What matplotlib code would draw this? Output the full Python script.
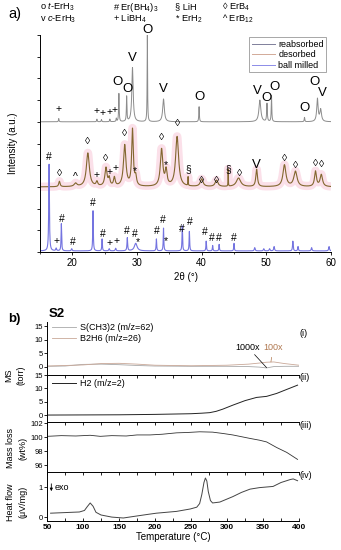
import matplotlib
matplotlib.use("Agg")
import matplotlib.pyplot as plt
import numpy as np

plt.rcParams['font.family'] = ['Liberation Sans', 'DejaVu Sans']
plt.rcParams['mathtext.fontset'] = 'custom'
plt.rcParams['mathtext.rm'] = 'Liberation Sans'
plt.rcParams['mathtext.it'] = 'Liberation Sans:italic'

# ---- panel a: XRD peak tables (2theta, height, width), heights in tick units ----
reab_pos = [17.9, 23.8, 24.5, 25.8, 26.8, 27.2, 28.4, 29.3, 31.6, 34.1, 39.6, 49.0, 50.1, 50.8, 55.9, 57.9, 58.4]
reab_h   = [0.15, 0.12, 0.10, 0.12, 0.15, 1.30, 1.15, 2.50, 4.00, 1.05, 0.70, 1.00, 0.83, 1.20, 0.20, 1.05, 0.55]
reab_w   = [0.10, 0.10, 0.10, 0.10, 0.10, 0.10, 0.10, 0.25, 0.08, 0.30, 0.10, 0.35, 0.12, 0.10, 0.10, 0.25, 0.30]

deso_pos = [18.0, 20.5, 22.4, 23.8, 25.2, 25.7, 26.5, 28.1, 29.3, 29.8, 33.8, 34.5, 36.2, 37.9, 40.0, 42.3, 44.1, 45.7, 48.5, 52.8, 54.5, 57.6, 58.5]
deso_h   = [0.25, 0.15, 1.55, 0.20, 0.85, 0.35, 0.40, 1.90, 2.60, 0.40, 1.70, 0.70, 2.30, 0.40, 0.35, 0.30, 0.80, 0.40, 0.80, 1.00, 0.70, 0.70, 0.55]
deso_w   = [0.25, 0.50, 0.55, 0.30, 0.40, 0.30, 0.30, 0.45, 0.30, 0.30, 0.45, 0.35, 0.55, 0.06, 0.50, 0.50, 0.05, 0.80, 0.30, 0.55, 0.60, 0.35, 0.45]

ball_pos = [16.4, 17.5, 18.3, 19.9, 23.2, 24.6, 25.7, 26.7, 28.5, 29.8, 33.0, 34.1, 37.0, 38.1, 40.7, 41.7, 42.7, 45.0, 48.2, 49.6, 50.5, 51.2, 54.1, 54.9, 57.0, 59.7]
ball_h   = [4.00, 0.12, 1.25, 0.10, 1.85, 0.55, 0.10, 0.12, 0.60, 0.35, 0.55, 1.05, 1.15, 0.90, 0.45, 0.25, 0.30, 0.35, 0.15, 0.10, 0.10, 0.20, 0.45, 0.20, 0.15, 0.20]
ball_w   = [0.12, 0.15, 0.10, 0.15, 0.10, 0.10, 0.15, 0.15, 0.12, 0.50, 0.10, 0.10, 0.10, 0.10, 0.10, 0.10, 0.10, 0.10, 0.15, 0.15, 0.15, 0.15, 0.12, 0.12, 0.15, 0.15]

offsets = {'reabsorbed': 6.0, 'desorbed': 3.0, 'ball milled': 0.05}

# phase markers (2theta, y in tick units, symbol)
reab_marks = [(17.9, 6.6, '+'), (23.8, 6.5, '+'), (24.6, 6.4, '+'), (25.8, 6.45, '+'), (26.6, 6.55, '+'),
              (27.0, 7.85, 'O'), (28.5, 7.5, 'O'), (29.3, 8.95, 'V'), (31.6, 10.25, 'O'), (34.1, 7.5, 'V'),
              (39.6, 7.15, 'O'), (48.6, 7.4, 'V'), (50.0, 7.1, 'O'), (51.2, 7.6, 'O'), (55.9, 6.65, 'O'),
              (57.4, 7.85, 'O'), (58.7, 7.35, 'V')]
deso_marks = [(18.0, 3.65, '\u25ca'), (20.5, 3.45, '^'), (22.4, 5.1, '\u25ca'), (23.8, 3.55, '+'),
              (25.2, 4.35, '\u25ca'), (25.7, 3.7, '+'), (26.7, 3.85, '+'), (28.1, 5.5, '\u25ca'),
              (29.6, 3.75, '*'), (33.8, 5.3, '\u25ca'), (34.4, 4.0, '*'), (36.2, 5.95, '\u25ca'),
              (37.9, 3.8, '\u00a7'), (40.0, 3.3, '\u25ca'), (42.3, 3.3, '\u25ca'), (44.1, 3.8, '\u00a7'),
              (45.9, 3.65, '\u25ca'), (48.5, 4.0, 'V'), (52.8, 4.35, '\u25ca'), (54.5, 4.0, '\u25ca'),
              (57.6, 4.1, '\u25ca'), (58.6, 4.05, '\u25ca')]
ball_marks = [(16.4, 4.4, '#'), (17.5, 0.5, '+'), (18.3, 1.5, '#'), (20.0, 0.45, '#'), (23.2, 2.25, '#'),
              (24.7, 0.85, '#'), (25.8, 0.4, '+'), (26.8, 0.5, '+'), (28.5, 0.95, '#'), (29.6, 0.85, '#'),
              (30.1, 0.45, '*'), (33.0, 0.95, '#'), (34.0, 1.47, '#'), (34.5, 0.5, '*'), (36.9, 1.05, '#'),
              (38.1, 1.38, '#'), (40.5, 0.92, '#'), (41.6, 0.65, '#'), (42.7, 0.65, '#'), (45.0, 0.65, '#')]

# ---- panel b: thermal analysis ----
ms_T      = [50, 75, 100, 125, 150, 175, 200, 250, 300, 330, 345, 355, 365, 380, 400]
sch3_vals = [0.2, 0.3, 0.9, 1.0, 0.8, 0.5, 0.3, 0.2, 0.2, 0.1, -0.1, -0.4, 0.1, 0.2, 0.2]
b2h6_vals = [0.3, 0.5, 0.7, 1.2, 1.3, 1.0, 0.6, 0.4, 0.6, 1.0, 1.4, 1.7, 1.8, 1.2, 0.6]

h2_T    = [50, 100, 150, 200, 250, 265, 276, 285, 294, 308, 325, 341, 355, 369, 383, 398]
h2_vals = [0.0, 0.05, 0.1, 0.25, 0.5, 0.7, 0.9, 1.4, 2.2, 3.7, 5.4, 6.6, 7.0, 8.1, 9.6, 11.2]

tg_T    = [50, 70, 90, 110, 124, 140, 160, 175, 193, 210, 230, 245, 262, 280, 295, 308, 320, 332, 345, 355, 369, 383, 398]
tg_vals = [100.1, 100.2, 100.15, 100.25, 100.1, 100.2, 100.15, 100.3, 100.3, 100.4, 100.6, 100.65, 100.75, 100.7, 100.5, 100.3, 100.05, 99.8, 99.55, 99.3, 98.5, 97.8, 96.8]

dsc_T    = [55, 75, 95, 102, 106, 110, 114, 118, 125, 140, 156, 170, 190, 202, 230, 249, 258, 262, 265, 268, 270, 272, 274, 277, 280, 290, 300, 308, 320, 332, 345, 364, 375, 388, 392, 398]
dsc_vals = [0.13, 0.15, 0.17, 0.22, 0.35, 0.47, 0.36, 0.16, 0.07, 0.0, -0.03, 0.02, 0.09, 0.13, 0.19, 0.27, 0.33, 0.45, 0.75, 1.15, 1.3, 1.2, 0.85, 0.55, 0.47, 0.5, 0.6, 0.68, 0.82, 0.93, 0.98, 1.02, 1.15, 1.25, 1.27, 1.21]


def pattern(x, pos, h, w):
    y = np.zeros_like(x)
    for p, a, g in zip(pos, h, w):
        y += a / (1 + ((x - p) / (g / 2)) ** 2)
    return y


fig = plt.figure(figsize=(3.41, 5.5), dpi=100)

# ================= panel a =================
ax = fig.add_axes([40/341, 1-252/550, 291/341, 217/550])
x = np.linspace(15, 60, 6000)
c_reab, c_deso, c_ball = '#8c8c8c', '#83672f', '#7474e0'

y_ball = pattern(x, ball_pos, ball_h, ball_w) + offsets['ball milled']
y_deso = pattern(x, deso_pos, deso_h, deso_w) + offsets['desorbed']
y_reab = pattern(x, reab_pos, reab_h, reab_w) + offsets['reabsorbed']

ax.plot(x, y_deso, color='#fbe0e9', lw=6, solid_capstyle='butt')
ax.plot(x, y_reab, color=c_reab, lw=0.7)
ax.plot(x, y_deso, color=c_deso, lw=0.8)
ax.plot(x, y_ball, color=c_ball, lw=0.8)

# legend proxies with lighter colours
ax.plot([], [], color='#7f7f9a', lw=0.7, label='reabsorbed')
ax.plot([], [], color='#d2aa98', lw=0.7, label='desorbed')
ax.plot([], [], color='#8c8ce8', lw=0.7, label='ball milled')
handles, labels = ax.get_legend_handles_labels()
leg = ax.legend(handles[-3:], labels[-3:], loc='upper right', bbox_to_anchor=(1.0, 1.01),
                fontsize=6.5, frameon=True, fancybox=False, framealpha=1, edgecolor='#999999',
                handlelength=2.6, handletextpad=0.3, borderpad=0.3, labelspacing=0.15)
leg.get_frame().set_linewidth(0.6)

for marks in (reab_marks, deso_marks, ball_marks):
    for xa, ya, s in marks:
        fs = 9.5 if s in ('O', 'V') else 7.5
        ax.text(xa, ya, s, fontsize=fs, ha='center', va='center', color='black')

ax.set_xlim(15, 60)
ax.set_ylim(0, 10)
ax.set_xticks([20, 30, 40, 50, 60])
ax.set_xticks(np.arange(15, 61, 5), minor=True)
ax.set_yticks(np.arange(0, 11, 1))
ax.set_yticklabels([])
ax.tick_params(axis='both', direction='out', length=2.5, width=0.6, labelsize=7, pad=1.5)
ax.tick_params(axis='x', which='minor', length=1.5, width=0.5)
for side in ('top', 'right'):
    ax.spines[side].set_visible(False)
for side in ('left', 'bottom'):
    ax.spines[side].set_linewidth(0.7)
ax.set_xlabel('2\u03b8 (\u00b0)', fontsize=7, labelpad=3)
ax.set_ylabel('Intensity (a.u.)', fontsize=7, labelpad=12)

fig.text(8/341, 1-14/550, 'a)', fontsize=10.5, ha='left', va='center')
tl = 6.7
fig.text(40/341, 1-7/550, 'o $\\it{t}$-ErH$_3$', fontsize=tl, va='center')
fig.text(40/341, 1-19/550, 'v $\\it{c}$-ErH$_3$', fontsize=tl, va='center')
fig.text(113/341, 1-7/550, '# Er(BH$_4$)$_3$', fontsize=tl, va='center')
fig.text(113/341, 1-19/550, '+ LiBH$_4$', fontsize=tl, va='center')
fig.text(175/341, 1-7/550, '\u00a7 LiH', fontsize=tl, va='center')
fig.text(175/341, 1-19/550, '* ErH$_2$', fontsize=tl, va='center')
fig.text(222/341, 1-7/550, '\u25ca ErB$_4$', fontsize=tl, va='center')
fig.text(222/341, 1-19/550, '^ ErB$_{12}$', fontsize=tl, va='center')

# ================= panel b =================
L, W = 47/341, 252/341
def frame(top_px, bot_px):
    return fig.add_axes([L, 1-bot_px/550, W, (bot_px-top_px)/550])

a1 = frame(322, 375)
a2 = frame(375, 422)
a3 = frame(422, 472)
a4 = frame(472, 521)
axes_b = [a1, a2, a3, a4]

a1.plot(ms_T, sch3_vals, color='#a8a8a8', lw=0.6, label='S(CH3)2 (m/z=62)')
a1.plot(ms_T, b2h6_vals, color='#c9a898', lw=0.6, label='B2H6 (m/z=26)')
a1.set_ylim(-3, 16.5)
a1.set_yticks([0, 5, 10, 15])
lg1 = a1.legend(loc='upper left', bbox_to_anchor=(0.0, 1.08), fontsize=6.5, frameon=False,
                handlelength=2.6, handletextpad=0.4, labelspacing=0.2, borderaxespad=0.2)
a1.annotate('1000x', xy=(355, -0.3), xytext=(346, 7.2), fontsize=6.5, ha='right', va='center',
            arrowprops=dict(arrowstyle='-', color='black', lw=0.5, shrinkA=0, shrinkB=0))
a1.annotate('100x', xy=(361, 1.8), xytext=(364, 7.2), fontsize=6.5, ha='center', va='center',
            color='#b07850',
            arrowprops=dict(arrowstyle='-', color='#b07850', lw=0.5, shrinkA=2, shrinkB=0))

a2.plot(h2_T, h2_vals, color='#222222', lw=0.7, label='H2 (m/z=2)')
a2.set_ylim(-2.6, 15)
a2.set_yticks([0, 5, 10, 15])
a2.legend(loc='upper left', bbox_to_anchor=(0.0, 1.03), fontsize=6.5, frameon=False,
          handlelength=2.6, handletextpad=0.4, borderaxespad=0.2)

a3.plot(tg_T, tg_vals, color='#333333', lw=0.6)
a3.set_ylim(95, 102.15)
a3.set_yticks([96, 98, 100, 102])

a4.plot(dsc_T, dsc_vals, color='#444444', lw=0.7)
a4.set_ylim(-0.13, 1.5)
a4.set_yticks([0, 1])
a4.annotate('', xy=(56, 0.77), xytext=(56, 1.2),
            arrowprops=dict(arrowstyle='-|>', color='black', lw=0.6, mutation_scale=4))
a4.text(61, 0.98, 'exo', fontsize=6.5, va='center')

for i, a in enumerate(axes_b):
    a.set_xlim(50, 400)
    a.set_xticks(np.arange(50, 401, 50))
    a.set_xticks(np.arange(75, 400, 50), minor=True)
    a.spines['right'].set_visible(False)
    a.spines['top'].set_visible(i > 0)
    a.spines['bottom'].set_visible(i == 3)
    for s in a.spines.values():
        s.set_linewidth(0.7)
    a.tick_params(axis='y', direction='out', length=2, width=0.6, labelsize=5.5, pad=1)
    a.tick_params(axis='x', which='both', direction='in', length=2.2, width=0.6,
                  top=(i > 0), bottom=(i == 3), labelbottom=(i == 3), labelsize=6, pad=2)
    a.patch.set_alpha(0)

for lab in a4.get_xticklabels():
    lab.set_fontweight('bold')
a4.set_xlabel('Temperature (\u00b0C)', fontsize=7, labelpad=1)

rn = 6.5
fig.text(300/341, 1-333/550, '(i)', fontsize=rn, va='center')
fig.text(299/341, 1-378/550, '(ii)', fontsize=rn, va='center')
fig.text(299/341, 1-426/550, '(iii)', fontsize=rn, va='center')
fig.text(299/341, 1-476/550, '(iv)', fontsize=rn, va='center')

fig.text(8/341, 1-319/550, 'b)', fontsize=9.5, fontweight='bold', va='center')
fig.text(49/341, 1-314/550, 'S2', fontsize=9.5, fontweight='bold', va='center')

fig.text(15/341, 1-375/550, 'MS\n(torr)', fontsize=6.5, rotation=90, ha='center', va='center',
         linespacing=1.5)
fig.text(17/341, 1-448/550, 'Mass loss\n(wt%)', fontsize=6.5, rotation=90, ha='center', va='center',
         linespacing=1.5)
fig.text(17/341, 1-502/550, 'Heat flow\n(\u03bcV/mg)', fontsize=6.5, rotation=90, ha='center',
         va='center', linespacing=1.5)

fig.savefig('out.png', dpi=100)
